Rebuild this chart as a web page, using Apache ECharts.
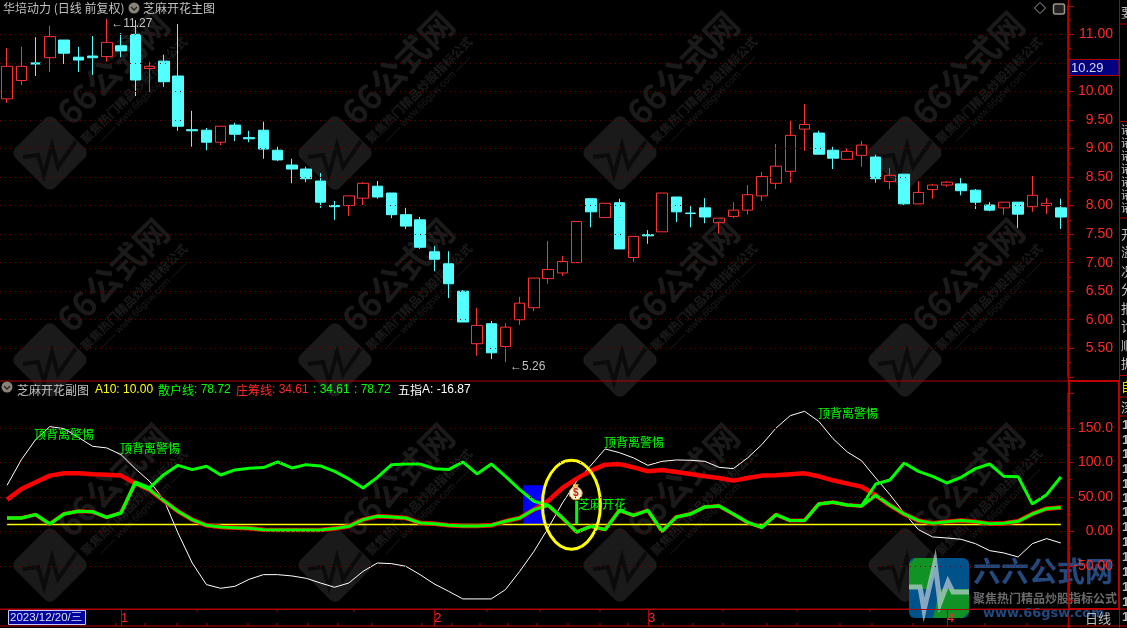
<!DOCTYPE html>
<html><head><meta charset="utf-8">
<style>html,body{margin:0;padding:0;background:#000;overflow:hidden}#c{width:1127px;height:628px}</style>
<script src="https://cdn.jsdelivr.net/npm/echarts@6/dist/echarts.min.js"></script>
</head><body><div id="c"></div>
<script>
const opens=[9.87,10.19,10.50,10.59,10.90,10.60,10.62,10.61,10.80,11.00,10.40,10.53,10.27,9.33,9.32,9.11,9.41,9.19,9.32,8.97,8.71,8.64,8.43,8.00,8.00,8.13,8.34,8.22,7.84,7.75,7.19,6.98,6.50,5.58,5.93,5.53,6.00,6.21,6.72,6.82,7.00,8.12,7.79,8.05,7.09,7.49,7.54,8.15,7.87,7.96,7.70,7.81,7.92,8.17,8.39,8.60,9.34,9.27,8.97,8.81,8.88,8.85,8.42,8.55,8.03,8.28,8.36,8.38,8.27,8.01,7.96,8.06,7.98,8.00,7.96];
const closes=[10.44,10.44,10.48,10.96,10.67,10.55,10.59,10.86,10.71,10.20,10.44,10.17,9.39,9.31,9.11,9.39,9.25,9.17,8.99,8.80,8.64,8.47,8.06,7.98,8.17,8.39,8.15,7.84,7.64,7.27,7.06,6.63,5.96,5.90,5.42,5.87,6.29,6.73,6.88,7.02,7.72,7.89,8.04,7.24,7.46,7.47,8.22,7.89,7.86,7.80,7.78,7.92,8.19,8.51,8.69,9.23,9.42,8.90,8.83,8.95,9.06,8.47,8.53,8.03,8.23,8.36,8.41,8.26,8.06,7.92,8.06,7.85,8.18,8.04,7.80];
const lows=[9.80,10.11,10.27,10.34,10.48,10.34,10.29,10.52,10.60,9.92,9.99,10.08,9.31,9.03,8.97,9.06,9.13,9.11,8.82,8.78,8.39,8.41,7.96,7.75,7.82,8.01,8.12,7.78,7.59,7.24,6.85,6.38,5.96,5.37,5.31,5.26,5.91,6.15,6.63,6.77,7.00,7.62,7.79,7.24,7.01,7.33,7.54,7.71,7.62,7.69,7.51,7.78,7.84,8.08,8.29,8.40,8.96,8.90,8.64,8.81,8.68,8.40,8.29,8.01,8.03,8.12,8.33,8.18,7.94,7.90,7.84,7.61,7.89,7.85,7.59];
const highs=[10.76,10.78,10.95,11.15,10.90,10.78,10.97,11.27,11.02,11.25,10.52,10.64,11.18,9.66,9.36,9.39,9.45,9.31,9.47,9.03,8.82,8.68,8.57,8.08,8.17,8.41,8.43,8.22,7.96,7.80,7.29,7.20,6.52,6.21,5.98,5.94,6.40,6.73,7.38,7.12,7.72,8.13,8.04,8.12,7.46,7.57,8.22,8.15,7.99,8.13,7.78,8.06,8.36,8.59,9.08,9.49,9.78,9.31,9.03,9.00,9.13,8.89,8.66,8.55,8.43,8.38,8.43,8.48,8.29,8.06,8.06,8.06,8.52,8.13,8.12];
const chipLine=[45.9,61.3,71.0,80.7,84.0,84.0,82.6,82.1,80.7,69.6,60.4,44.4,29.0,16.9,8.7,6.3,5.3,4.3,2.4,1.9,1.9,1.9,1.9,3.9,7.2,16.9,21.7,20.8,19.3,12.1,11.1,8.7,7.7,7.7,8.7,14.5,19.3,31.4,44.4,62.8,76.3,87.9,96.6,97.6,92.7,86.9,88.9,86.0,83.1,79.7,77.3,73.4,77.3,80.7,81.1,82.6,84.0,79.7,73.9,69.1,64.7,52.2,37.7,25.1,15.5,11.6,14.0,15.5,14.0,11.1,11.6,14.5,25.1,32.8,34.61];
const retailLine=[19.3,19.3,24.2,10.6,25.1,29.0,28.5,20.3,26.6,71.5,62.8,82.1,95.6,89.4,94.2,81.6,88.9,91.3,92.3,100.5,91.8,96.6,94.7,86.9,75.8,62.8,78.2,96.6,97.6,97.6,90.8,89.4,100.5,83.1,97.6,79.7,60.4,43.5,37.7,19.3,-1.0,7.2,2.4,30.4,23.2,30.4,0,20.8,25.1,35.3,36.7,25.1,13.0,5.8,24.2,15.5,15.5,39.6,42.0,38.2,36.7,68.6,74.4,99.0,86.9,79.7,70.0,78.2,90.8,97.6,79.7,79.2,39.6,53.1,78.72];
const lowerLine=[19.3,19.3,24.2,10.6,25.1,29.0,28.5,20.3,26.6,69.6,60.4,44.4,29.0,16.9,8.7,6.3,5.3,4.3,2.4,1.9,1.9,1.9,1.9,3.9,7.2,16.9,21.7,20.8,19.3,12.1,11.1,8.7,7.7,7.7,8.7,14.5,19.3,31.4,37.7,19.3,-1.0,7.2,2.4,30.4,23.2,30.4,0,20.8,25.1,35.3,36.7,25.1,13.0,5.8,24.2,15.5,15.5,39.6,42.0,38.2,36.7,52.2,37.7,25.1,15.5,11.6,14.0,15.5,14.0,11.1,11.6,14.5,25.1,32.8,34.61];
const fingerLine=[66.7,103.8,132.8,151.7,148.8,136.2,123.2,120.8,111.1,90.8,72.5,45.9,-2.4,-45.9,-77.3,-82.6,-79.7,-69.6,-62.8,-62.8,-64.7,-68.1,-74.9,-81.1,-74.9,-58.0,-45.9,-46.9,-50.7,-62.8,-76.3,-86.9,-98.0,-98.0,-98.0,-84.5,-58.0,-29.0,4.8,41.1,72.5,95.6,119.3,114.0,106.3,95.6,101.4,103.4,102.9,101.4,92.7,90.8,106.3,125.6,149.7,167.6,173.9,159.4,134.3,115.0,102.4,77.3,53.1,26.6,2.4,-8.2,-9.7,-11.6,-17.9,-28.0,-31.4,-37.2,-17.9,-10.6,-16.87];
const a10Value=10;
const monthTicks=[[8,'1'],[30,'2'],[45,'3'],[66,'4']];
const priceExtremes=[[7,11.27,'←11.27'],[35,5.26,'←5.26']];
const blueBlock=[37,10,66.7];
const flowerStick=[40,10,44.4];
const flowerEllipse=[40,38.6];
const bagPoint=[40,55];

const categories=opens.map((_,i)=>String(i));
const candles=opens.map((o,i)=>[o,closes[i],lows[i],highs[i]]);
const a10=opens.map(()=>a10Value);
const monthMap=Object.fromEntries(monthTicks);

const RED='#ff2828',FRAME='#b00000',DOT='#780000',GREEN='#00ff00',CYAN='#54ffff',GRAY='#c0c0c0';
const cjk='"Noto Sans CJK SC"';
const num='"Liberation Sans"';
const g=[];
function line(x1,y1,x2,y2,c,w){g.push({type:'line',silent:true,z:6,shape:{x1,y1,x2,y2},style:{stroke:c||FRAME,lineWidth:w||1}});}
function txt(t,x,y,c,font,z,extra){g.push({type:'text',silent:true,z:z||7,x,y,style:Object.assign({text:t,fill:c,font:font,verticalAlign:'middle'},extra||{})});}

// watermark tiles
const wm='rgba(255,255,255,0.1)';
[50,335,620,905].forEach(cx=>[153,360,565].forEach(cy=>{
  g.push({type:'rect',silent:true,z:0,x:cx,y:cy,rotation:Math.PI/4,shape:{x:-28,y:-28,width:56,height:56,r:7},style:{fill:wm}});
  g.push({type:'polyline',silent:true,z:1,shape:{points:[[cx-27,cy+4],[cx-12,cy+2],[cx-6,cy+22],[cx+2,cy-8],[cx+8,cy+14],[cx+26,cy-12]]},style:{stroke:'rgba(0,0,0,0.55)',lineWidth:4,fill:'none'}});
  g.push({type:'text',silent:true,z:0,x:cx+63,y:cy-85,rotation:Math.PI/4,style:{text:'66公式网',fill:wm,font:'bold 34px '+cjk,align:'center',verticalAlign:'middle'}});
  g.push({type:'text',silent:true,z:0,x:cx+84,y:cy-63,rotation:Math.PI/4,style:{text:'聚焦热门精品炒股指标公式',fill:wm,font:'bold 12px '+cjk,align:'center',verticalAlign:'middle'}});
  g.push({type:'text',silent:true,z:0,x:cx+93,y:cy-54,rotation:Math.PI/4,style:{text:'—— www.66gsw.com ——',fill:wm,font:'10px '+num,align:'center',verticalAlign:'middle'}});
}));

// frame
line(0,381,1119,381);line(0,609,1127,609);line(0,626,1127,626);
line(1068.5,0,1068.5,381,'#c00000',1.5);line(1068.5,609,1068.5,628);line(1119.5,0,1119.5,628);
line(1119,24,1127,24);line(1119,121.5,1127,121.5);line(1119,218,1127,218);line(1119,375.5,1127,375.5);line(1119,397,1127,397);line(1119,416,1127,416);
g.push({type:'rect',silent:true,z:6,shape:{x:1069,y:381,width:50,height:228},style:{fill:'none',stroke:'#c00000',lineWidth:2}});
[197,277,354,487,540,600,723,797,870].forEach(x=>line(x,609,x,612));
[42,81,116,145,177,207,248,277,308,338,372,422,452,480,508,537,568,600,628,663,693,723,767,797,840,872,913,985,1027,1068,1095].forEach(x=>line(x,623,x,626));
// current price box
g.push({type:'rect',silent:true,z:100,shape:{x:1069,y:59.5,width:50,height:16},style:{fill:'#000080',stroke:FRAME,lineWidth:1}});
txt('10.29',1071,68,'#d8d8e8','13px '+num,101);
// date box
g.push({type:'rect',silent:true,z:7,shape:{x:8.5,y:610.5,width:77,height:14},style:{fill:'#0000a0',stroke:'#c8c8ff',lineWidth:1}});
txt('2023/12/20/三',10,618,'#e0e0e0','11.5px '+num+','+cjk,8);
txt('日线',1085,618,GRAY,'13px '+cjk,25);
// titles
txt('华培动力 (日线 前复权)',3,8,GRAY,'12px '+cjk);
function chev(x,y){
  g.push({type:'circle',silent:true,z:7,shape:{cx:x,cy:y,r:5.5},style:{fill:'#8a8478'}});
  g.push({type:'polyline',silent:true,z:8,shape:{points:[[x-3,y-1],[x,y+2],[x+3,y-1]]},style:{stroke:'#222',lineWidth:1.3,fill:'none'}});
}
chev(134,8);chev(7,387);
txt('芝麻开花主图',143,8,GRAY,'12px '+cjk);
txt('芝麻开花副图',17,390,GRAY,'12px '+cjk);
txt('A10: 10.00',95,390,'#ffff00','12px '+num);
txt('散户线',158,390,GREEN,'12px '+cjk);txt(': 78.72',194,390,GREEN,'12px '+num);
txt('庄筹线',236,390,RED,'12px '+cjk);txt(': 34.61',272,390,RED,'12px '+num);
txt(': 34.61',313,390,GREEN,'12px '+num);
txt(': 78.72',354,390,GREEN,'12px '+num);
txt('五指',398,390,'#ffffff','12px '+cjk);txt('A: -16.87',422,390,'#ffffff','12px '+num);
// top-right icons
g.push({type:'polygon',silent:true,z:7,shape:{points:[[1040,2.5],[1045.5,8],[1040,13.5],[1034.5,8]]},style:{fill:'none',stroke:'#9a9a9a',lineWidth:1}});
g.push({type:'rect',silent:true,z:7,shape:{x:1053.5,y:4,width:11,height:10,r:2},style:{fill:'#222',stroke:'#a09888',lineWidth:1.5}});
// annotations
[[34,434],[120,448],[604,442],[818,413]].forEach(p=>txt('顶背离警惕',p[0],p[1],GREEN,'12px '+cjk,9));
txt('芝麻开花',578,504,GREEN,'12px '+cjk,9);
// right cut-off strip
txt('要',1121,12,GRAY,'13px '+cjk);
[130,143,156,169,182,195,208].forEach(y=>txt('诸',1121,y,GRAY,'11px '+cjk));
['开','溢','况','分','报','论','顺','据'].forEach((c,i)=>txt(c,1121,234+i*18.5,GRAY,'13px '+cjk));
txt('自',1121,386,'#e8e000','13px '+cjk);txt('深',1121,407,GRAY,'13px '+cjk);
[425.7,440,454,469,484,498,512,527,542,557,572,587,602,617].forEach(y=>txt('11.32',1122,y,GRAY,'bold 13px '+num));
// logo
const logoA=0.9;
g.push({type:'rect',silent:true,z:20,shape:{x:909,y:558,width:60,height:60,r:6},style:{fill:'#005b9a',opacity:logoA}});
g.push({type:'polygon',silent:true,z:21,shape:{points:[[909,564],[915,558],[937,558],[928,589],[909,589]]},style:{fill:'#129a18',opacity:logoA}});
g.push({type:'polygon',silent:true,z:21,shape:{points:[[940,589],[969,589],[969,612],[963,618],[933,618]]},style:{fill:'#129a18',opacity:logoA}});
g.push({type:'polyline',silent:true,z:22,shape:{points:[[909,587],[920,587],[924,610],[935,563],[940,603],[948,582],[953,592],[969,592]]},style:{stroke:'rgba(190,205,215,0.7)',lineWidth:5,fill:'none'}});
txt('六六公式网',973,571.5,'#24497f','bold 28px '+cjk,20);
txt('聚焦热门精品炒股指标公式',973,598,'#6a6a6a','bold 12px '+cjk,20);
txt('www.66gsw.com',983,614,'#24497f','bold 13px "DejaVu Sans"',20,{});

const dotted={lineStyle:{color:DOT,type:[1,4],width:1}};
function yAxis(grid,min,max,fmt){return {
  gridIndex:grid,position:'right',type:'value',min,max,interval:grid===0?0.5:50,z:30,
  axisLine:{show:true,lineStyle:{color:'#c00000',width:1.5}},
  axisTick:{show:true,length:6,lineStyle:{color:'#c00000'}},
  minorTick:{show:true,splitNumber:2,length:3,lineStyle:{color:'#c00000'}},
  splitLine:Object.assign({show:true,showMinLine:false,showMaxLine:false},dotted),
  axisLabel:{show:true,showMinLabel:false,showMaxLabel:false,inside:false,align:'right',margin:45,color:RED,fontFamily:num,fontSize:14,formatter:fmt}
};}
const option={
  backgroundColor:'#000',animation:false,tooltip:{show:false},
  graphic:g,
  grid:[{left:-0.8,top:5.8,width:1068.75,height:371,containLabel:false},{left:-0.8,top:393.3,width:1068.75,height:207,containLabel:false}],
  xAxis:[
    {type:'category',gridIndex:0,data:categories,show:false,boundaryGap:true},
    {type:'category',gridIndex:1,data:categories,boundaryGap:true,offset:8.7,z:30,
     axisLine:{show:true,onZero:false,lineStyle:{color:FRAME}},
     axisTick:{show:true,alignWithLabel:true,length:17,inside:false,interval:(i)=>monthMap[i]!==undefined,lineStyle:{color:FRAME}},
     axisLabel:{show:true,interval:0,margin:3,align:'left',color:RED,fontFamily:num,fontSize:13,formatter:(v,i)=>monthMap[i]||'',hideOverlap:false},
     splitLine:{show:false}}
  ],
  yAxis:[
    yAxis(0,5,11.5,v=>v===10.5?'':v.toFixed(2)),
    yAxis(1,-100,200,v=>Math.abs(v)>=100?v.toFixed(1):v.toFixed(2))
  ],
  series:[
    {type:'candlestick',xAxisIndex:0,yAxisIndex:0,data:candles,barWidth:11,z:3,clip:false,
     itemStyle:{color:'transparent',color0:CYAN,borderColor:'#ff3232',borderColor0:CYAN,borderWidth:1},
     markPoint:{silent:true,symbol:'circle',symbolSize:1,animation:false,itemStyle:{color:'transparent',borderWidth:0},
       data:priceExtremes.map(p=>({coord:[p[0],p[1]],value:p[2]})),
       label:{show:true,position:'right',offset:[-1,5],color:GRAY,fontFamily:num,fontSize:12,formatter:p=>p.value}}},
    {type:'custom',xAxisIndex:1,yAxisIndex:1,z:2,clip:false,data:[blueBlock],encode:{x:0,y:[1,2]},
     renderItem:(p,api)=>{const a=api.coord([api.value(0),api.value(1)]),b=api.coord([api.value(0),api.value(2)]);
       return {type:'rect',shape:{x:a[0]-11,y:b[1],width:22,height:a[1]-b[1]},style:{fill:'#0000ff'}};}},
    {type:'line',xAxisIndex:1,yAxisIndex:1,data:a10,z:3,symbol:'none',lineStyle:{color:'#ffff00',width:1.5},silent:true},
    {type:'line',xAxisIndex:1,yAxisIndex:1,data:fingerLine,z:4,symbol:'none',lineStyle:{color:'#ffffff',width:1},silent:true},
    {type:'line',xAxisIndex:1,yAxisIndex:1,data:chipLine,z:5,symbol:'none',lineStyle:{color:'#ff0000',width:4.5},silent:true},
    {type:'line',xAxisIndex:1,yAxisIndex:1,data:lowerLine,z:5,symbol:'none',lineStyle:{color:'#ff0000',width:4},silent:true},
    {type:'line',xAxisIndex:1,yAxisIndex:1,data:retailLine,z:6,symbol:'none',lineStyle:{color:'#00ff00',width:3},silent:true},
    {type:'line',xAxisIndex:1,yAxisIndex:1,data:lowerLine,z:6,symbol:'none',lineStyle:{color:'#00ff00',width:3},silent:true},
    {type:'custom',xAxisIndex:1,yAxisIndex:1,z:8,clip:false,data:[flowerStick],encode:{x:0,y:[1,2]},
     renderItem:(p,api)=>{const a=api.coord([api.value(0),api.value(1)]),b=api.coord([api.value(0),api.value(2)]);
       return {type:'rect',shape:{x:a[0]-1.5,y:b[1],width:3,height:a[1]-b[1]},style:{fill:'#00ff00'}};}},
    {type:'custom',xAxisIndex:1,yAxisIndex:1,z:9,clip:false,data:[flowerEllipse],encode:{x:0,y:1},
     renderItem:(p,api)=>{const a=api.coord([api.value(0),api.value(1)]);
       return {type:'ellipse',shape:{cx:a[0]-5.3,cy:a[1],rx:29,ry:44.5},style:{fill:'none',stroke:'#ffff00',lineWidth:3}};}},
    {type:'custom',xAxisIndex:1,yAxisIndex:1,z:10,clip:false,data:[bagPoint],encode:{x:0,y:1},
     renderItem:(p,api)=>{const a=api.coord([api.value(0),api.value(1)]);const x=a[0]-1,y=a[1];
       return {type:'group',children:[
         {type:'polygon',shape:{points:[[x-3,y-9],[x+3,y-9],[x+1.5,y-5],[x-1.5,y-5]]},style:{fill:'#ffc840'}},
         {type:'circle',shape:{cx:x,cy:y,r:6.5},style:{fill:'#fff2c8',stroke:'#e0a030',lineWidth:1}},
         {type:'text',x:x,y:y,style:{text:'$',fill:'#c02020',font:'bold 10px "Liberation Sans"',align:'center',verticalAlign:'middle'}}
       ]};}}
  ]
};
const chart=echarts.init(document.getElementById('c'),null,{renderer:'canvas',width:1127,height:628});
chart.setOption(option);
</script></body></html>
